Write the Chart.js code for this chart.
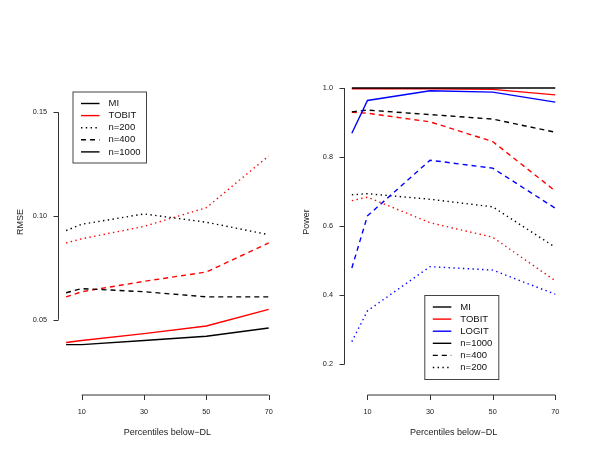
<!DOCTYPE html>
<html>
<head>
<meta charset="utf-8">
<script src="https://cdn.jsdelivr.net/npm/chart.js@4"></script>
<style>
  html, body { margin: 0; padding: 0; background: #fff; }
  #wrap { position: relative; width: 600px; height: 464px; overflow: hidden; }
  canvas { position: absolute; top: 0; }
</style>
</head>
<body>
<div id="wrap">
  <canvas id="rmseChart" width="300" height="464" style="left:0"></canvas>
  <canvas id="powerChart" width="300" height="464" style="left:300px"></canvas>
</div>
<script>
// percentiles below DL
const xValues = [5, 10, 30, 50, 70];
const xTicks = [10, 30, 50, 70];

// left panel : RMSE
const rmseTicks = [0.05, 0.10, 0.15];
const rmseTickLabels = ['0.05', '0.10', '0.15'];
const rmseMi200 = [0.093, 0.096, 0.101, 0.097, 0.091];
const rmseTobit200 = [0.087, 0.089, 0.095, 0.104, 0.129];
const rmseMi400 = [0.063, 0.065, 0.0635, 0.061, 0.061];
const rmseTobit400 = [0.061, 0.0635, 0.0685, 0.073, 0.087];
const rmseMi1000 = [0.038, 0.038, 0.040, 0.042, 0.046];
const rmseTobit1000 = [0.039, 0.040, 0.0433, 0.047, 0.055];

// right panel : power
const powerTicks = [0.2, 0.4, 0.6, 0.8, 1.0];
const powerTickLabels = ['0.2', '0.4', '0.6', '0.8', '1.0'];
const powerMi1000 = [1, 1, 1, 1, 1];
const powerTobit1000 = [0.998, 0.998, 0.998, 0.996, 0.98];
const powerLogit1000 = [0.869, 0.964, 0.992, 0.988, 0.959];
const powerMi400 = [0.931, 0.936, 0.923, 0.910, 0.872];
const powerTobit400 = [0.930, 0.927, 0.902, 0.845, 0.702];
const powerLogit400 = [0.479, 0.630, 0.791, 0.768, 0.652];
const powerMi200 = [0.691, 0.694, 0.678, 0.656, 0.539];
const powerTobit200 = [0.674, 0.684, 0.610, 0.568, 0.442];
const powerLogit200 = [0.266, 0.355, 0.483, 0.473, 0.403];

const BLACK = '#000000', RED = '#ff0000', BLUE = '#0000ff';
const SOLID = [], DASHED = [5, 4], DOTTED = [1.4, 3.4];
const FONT = '"Liberation Sans", Arial, sans-serif';
const LW = 1.4;

function series(label, values, color, dash) {
  return {
    label: label,
    data: values.map((v, i) => ({ x: xValues[i], y: v })),
    borderColor: color,
    borderDash: dash,
    borderWidth: LW,
    pointRadius: 0,
    tension: 0,
    fill: false
  };
}

// R style axes, labels and legend
const rAxes = {
  id: 'rAxes',
  afterDraw(chart, args, o) {
    const ctx = chart.ctx;
    const xs = chart.scales.x, ys = chart.scales.y;
    const area = chart.chartArea;
    ctx.save();
    ctx.strokeStyle = '#333';
    ctx.fillStyle = '#222';
    ctx.lineWidth = 1;

    // x axis
    const xb = area.bottom;
    ctx.beginPath();
    ctx.moveTo(xs.getPixelForValue(xTicks[0]), xb);
    ctx.lineTo(xs.getPixelForValue(xTicks[xTicks.length - 1]), xb);
    xTicks.forEach(t => {
      const px = Math.round(xs.getPixelForValue(t)) + 0.5;
      ctx.moveTo(px, xb);
      ctx.lineTo(px, xb + 5);
    });
    ctx.stroke();
    ctx.font = '7.3px ' + FONT;
    ctx.textAlign = 'center';
    ctx.textBaseline = 'middle';
    xTicks.forEach(t => ctx.fillText(String(t), xs.getPixelForValue(t), xb + 16.5));
    ctx.font = '9px ' + FONT;
    ctx.fillText('Percentiles below\u2212DL', (area.left + area.right) / 2, 433);

    // y axis
    const yl = Math.round(area.left) + 0.5;
    ctx.beginPath();
    ctx.moveTo(yl, ys.getPixelForValue(o.ticks[0]));
    ctx.lineTo(yl, ys.getPixelForValue(o.ticks[o.ticks.length - 1]));
    o.ticks.forEach(t => {
      const py = Math.round(ys.getPixelForValue(t)) + 0.5;
      ctx.moveTo(yl, py);
      ctx.lineTo(yl - 5, py);
    });
    ctx.stroke();
    ctx.font = '7.3px ' + FONT;
    ctx.textAlign = 'right';
    o.ticks.forEach((t, i) => ctx.fillText(o.tickLabels[i], yl - 11.5, ys.getPixelForValue(t)));
    ctx.save();
    ctx.translate(o.titleX, (area.top + area.bottom) / 2 - 2);
    ctx.rotate(-Math.PI / 2);
    ctx.textAlign = 'center';
    ctx.font = '9px ' + FONT;
    ctx.fillText(o.title, 0, 0);
    ctx.restore();

    // legend box
    const lg = o.legend;
    ctx.strokeStyle = '#444';
    ctx.strokeRect(lg.x + 0.5, lg.y + 0.5, lg.w, lg.h);
    ctx.font = '9.5px ' + FONT;
    ctx.textAlign = 'left';
    lg.items.forEach((it, i) => {
      const y = lg.y + 12 + i * 12.1;
      ctx.beginPath();
      ctx.strokeStyle = it.color;
      ctx.lineWidth = LW;
      ctx.setLineDash(it.dash);
      ctx.moveTo(lg.x + 8.5, y);
      ctx.lineTo(lg.x + 27, y);
      ctx.stroke();
      ctx.setLineDash([]);
      ctx.fillStyle = '#111';
      ctx.fillText(it.text, lg.x + 36, y);
    });
    ctx.restore();
  }
};

function makeChart(id, datasets, yMin, yMax, padLeft, padRight, axisOpts) {
  return new Chart(document.getElementById(id), {
    type: 'line',
    data: { datasets: datasets },
    options: {
      responsive: false,
      animation: false,
      layout: { padding: { left: padLeft, right: padRight, top: 53, bottom: 69 } },
      scales: {
        x: { type: 'linear', min: 2.4, max: 72.6, display: false },
        y: { type: 'linear', min: yMin, max: yMax, display: false }
      },
      plugins: {
        legend: { display: false },
        tooltip: { enabled: false },
        rAxes: axisOpts
      }
    },
    plugins: [rAxes]
  });
}

makeChart('rmseChart', [
  series('MI n=1000', rmseMi1000, BLACK, SOLID),
  series('TOBIT n=1000', rmseTobit1000, RED, SOLID),
  series('MI n=400', rmseMi400, BLACK, DASHED),
  series('TOBIT n=400', rmseTobit400, RED, DASHED),
  series('MI n=200', rmseMi200, BLACK, DOTTED),
  series('TOBIT n=200', rmseTobit200, RED, DOTTED)
], 0.0137, 0.1786, 58, 23.2, {
  ticks: rmseTicks,
  tickLabels: rmseTickLabels,
  title: 'RMSE',
  titleX: 20.7,
  legend: {
    x: 72.5, y: 91.5, w: 73.5, h: 71,
    items: [
      { text: 'MI', color: BLACK, dash: SOLID },
      { text: 'TOBIT', color: RED, dash: SOLID },
      { text: 'n=200', color: BLACK, dash: DOTTED },
      { text: 'n=400', color: BLACK, dash: DASHED },
      { text: 'n=1000', color: BLACK, dash: SOLID }
    ]
  }
});

makeChart('powerChart', [
  series('MI n=1000', powerMi1000, BLACK, SOLID),
  series('TOBIT n=1000', powerTobit1000, RED, SOLID),
  series('LOGIT n=1000', powerLogit1000, BLUE, SOLID),
  series('MI n=400', powerMi400, BLACK, DASHED),
  series('TOBIT n=400', powerTobit400, RED, DASHED),
  series('LOGIT n=400', powerLogit400, BLUE, DASHED),
  series('MI n=200', powerMi200, BLACK, DOTTED),
  series('TOBIT n=200', powerTobit200, RED, DOTTED),
  series('LOGIT n=200', powerLogit200, BLUE, DOTTED)
], 0.1114, 1.1013, 43.7, 36.6, {
  ticks: powerTicks,
  tickLabels: powerTickLabels,
  title: 'Power',
  titleX: 6.7,
  legend: {
    x: 124.3, y: 295, w: 74, h: 84,
    items: [
      { text: 'MI', color: BLACK, dash: SOLID },
      { text: 'TOBIT', color: RED, dash: SOLID },
      { text: 'LOGIT', color: BLUE, dash: SOLID },
      { text: 'n=1000', color: BLACK, dash: SOLID },
      { text: 'n=400', color: BLACK, dash: DASHED },
      { text: 'n=200', color: BLACK, dash: DOTTED }
    ]
  }
});
</script>
</body>
</html>
